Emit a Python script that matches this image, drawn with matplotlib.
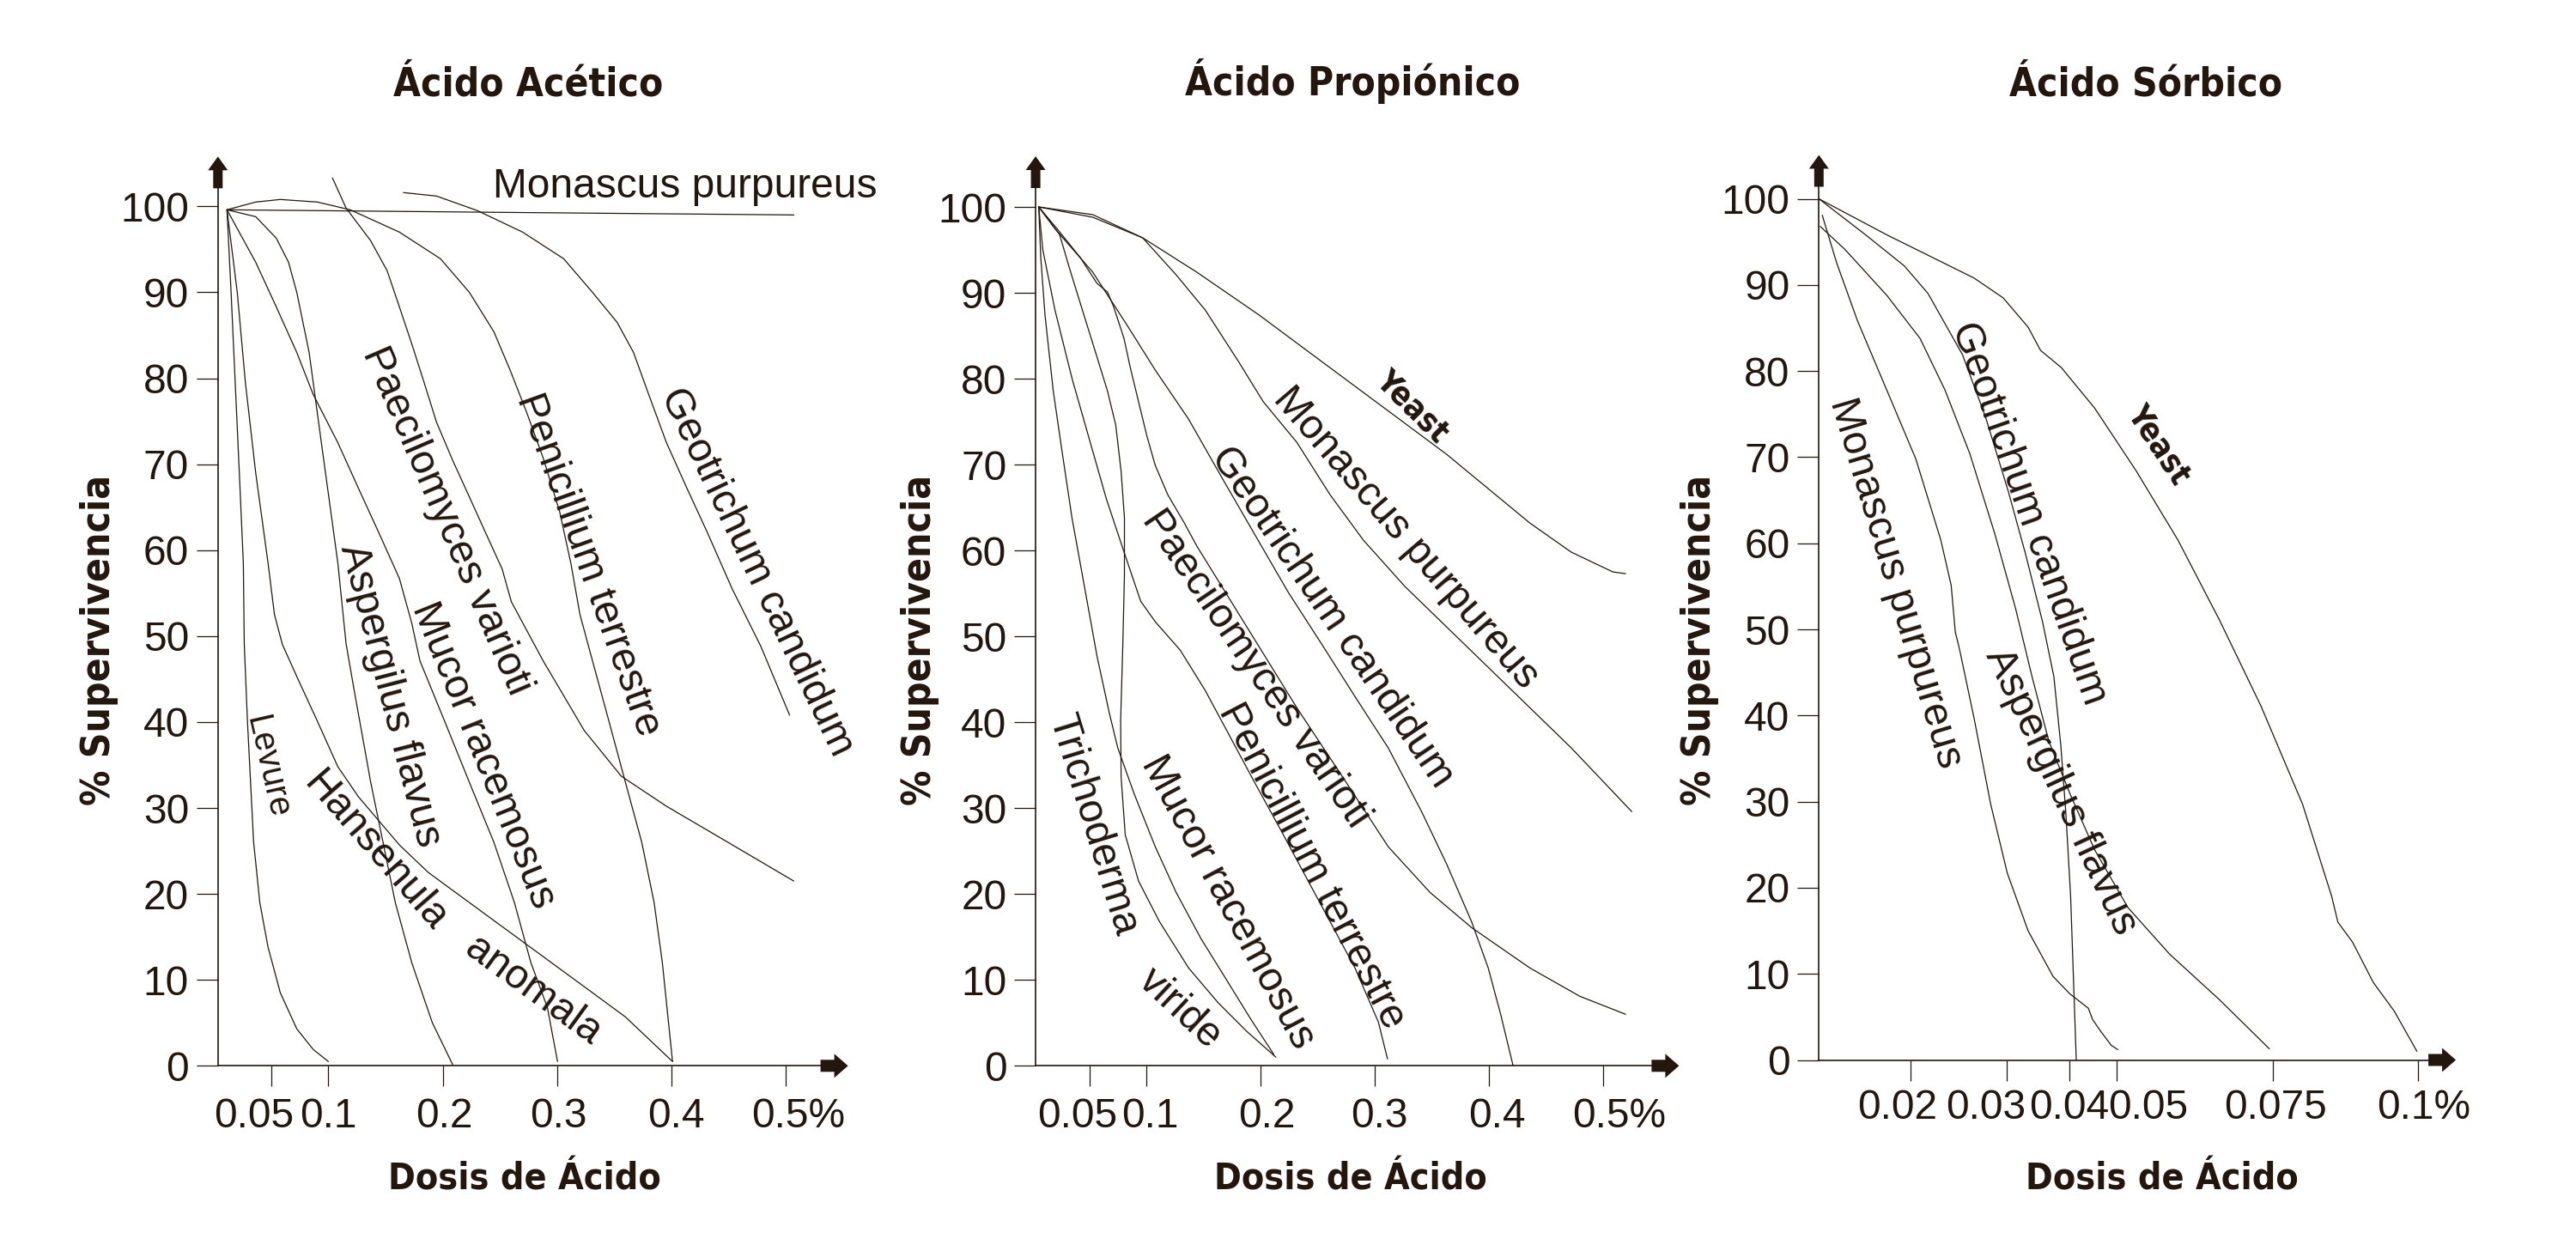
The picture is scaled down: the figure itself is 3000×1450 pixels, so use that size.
import numpy as np
import matplotlib
matplotlib.use("Agg")
import matplotlib.pyplot as plt
from matplotlib import font_manager
from matplotlib.patches import FancyArrow
from matplotlib.transforms import IdentityTransform

# -------------------------------------------------------
# DATA  (dose of acid in %, survival in %)
# -------------------------------------------------------
y_ticks = [0, 10, 20, 30, 40, 50, 60, 70, 80, 90, 100]

# --- Acido Acetico ---
ac_ticks = [0.05, 0.1, 0.2, 0.3, 0.4, 0.5]
ac_ticklabels = ['0.05', '0.1', '0.2', '0.3', '0.4', '0.5%']

ac_monascus_x = [0.0115, 0.252, 0.507]
ac_monascus_y = [99.6, 99.3, 99.0]

ac_paecilo_x = [0.1037, 0.1156, 0.1371, 0.1515, 0.1622, 0.1730, 0.1838, 0.1946, 0.2089,
                0.2233, 0.2376, 0.2520, 0.2600, 0.2879, 0.3238, 0.3561, 0.3956, 0.4494, 0.5068]
ac_paecilo_y = [103.3, 99.8, 96.0, 92.5, 88.3, 84.0, 79.5, 74.9, 70.4,
                66.2, 62.0, 57.8, 54.0, 47.1, 39.0, 33.7, 30.2, 26.0, 21.5]

ac_penic_x = [0.0115, 0.0366, 0.0581, 0.0905, 0.1192, 0.1622, 0.1981, 0.2233, 0.2448, 0.2591,
              0.2735, 0.2879, 0.3022, 0.3120, 0.3200, 0.3310, 0.3453, 0.3597, 0.3740, 0.3848,
              0.3920, 0.3974, 0.4009]
ac_penic_y = [99.6, 100.5, 100.8, 100.5, 99.6, 97.0, 93.9, 90.0, 85.4, 80.9,
              76.0, 70.7, 64.5, 58.5, 52.5, 47.1, 40.1, 33.0, 26.0, 19.0,
              12.0, 5.0, 0.5]

ac_geotri_x = [0.1658, 0.1945, 0.2304, 0.2699, 0.3058, 0.3309, 0.3525, 0.3668, 0.3812,
               0.3956, 0.4135, 0.4315, 0.4530, 0.4781, 0.5032]
ac_geotri_y = [101.6, 101.2, 99.5, 97.0, 93.9, 90.0, 86.5, 83.0, 77.7,
               72.5, 67.2, 62.0, 55.5, 48.8, 40.8]

ac_asperg_x = [0.0115, 0.0366, 0.0546, 0.0653, 0.0725, 0.0779, 0.0833, 0.0887, 0.0940, 0.1012,
               0.1084, 0.1156, 0.1228, 0.1371, 0.1479, 0.1586, 0.1730, 0.1910, 0.2089]
ac_asperg_y = [99.6, 98.8, 96.3, 93.5, 90.0, 86.5, 83.0, 77.7, 72.5, 65.5,
               58.5, 49.1, 43.6, 33.0, 26.0, 19.0, 12.0, 5.0, 0.1]

ac_mucor_x = [0.0115, 0.0366, 0.0546, 0.0725, 0.0869, 0.1084, 0.1264, 0.1443, 0.1622,
              0.1730, 0.1802, 0.2017, 0.2233, 0.2448, 0.2627, 0.2771, 0.2915, 0.3004]
ac_mucor_y = [99.6, 93.5, 88.3, 83.0, 78.1, 72.5, 67.2, 62.0, 56.7,
              51.5, 47.1, 40.1, 33.0, 26.0, 19.0, 12.0, 6.8, 0.5]

ac_hansen_x = [0.0115, 0.0205, 0.0276, 0.0366, 0.0474, 0.0530, 0.0600, 0.0725, 0.0905, 0.1084,
               0.1264, 0.1443, 0.1622, 0.1874, 0.2161, 0.2520, 0.2879, 0.3238, 0.3596, 0.4009]
ac_hansen_y = [99.6, 90.0, 79.5, 69.0, 58.5, 52.5, 49.0, 45.3, 40.1, 34.8,
               31.3, 28.5, 25.7, 22.5, 19.7, 16.2, 12.7, 9.2, 5.7, 0.5]

ac_levure_x = [0.0115, 0.0151, 0.0187, 0.0223, 0.0258, 0.0266, 0.0294, 0.0348, 0.0402,
               0.0474, 0.0581, 0.0725, 0.0869, 0.1001]
ac_levure_y = [99.6, 90.0, 79.5, 69.0, 58.5, 49.1, 40.1, 26.0, 19.0,
               13.8, 8.5, 4.3, 1.9, 0.5]

# --- Acido Propionico ---
pr_ticks = [0.05, 0.1, 0.2, 0.3, 0.4, 0.5]
pr_ticklabels = ['0.05', '0.1', '0.2', '0.3', '0.4', '0.5%']

pr_yeast_x = [0.0058, 0.0531, 0.0968, 0.1442, 0.1988, 0.2534, 0.3081, 0.3627, 0.3991,
              0.4355, 0.4719, 0.5083, 0.5193]
pr_yeast_y = [100.0, 99.1, 96.4, 92.4, 87.4, 82.0, 76.6, 71.2, 67.2,
              63.2, 59.8, 57.5, 57.3]

pr_monascus_x = [0.0058, 0.0531, 0.0968, 0.1260, 0.1515, 0.1806, 0.2024, 0.2316, 0.2607,
                 0.2899, 0.3263, 0.3627, 0.3991, 0.4355, 0.4719, 0.5247]
pr_monascus_y = [100.0, 98.8, 96.4, 92.1, 88.0, 82.0, 77.3, 72.6, 66.5,
                 61.2, 55.8, 51.1, 46.4, 41.7, 37.0, 29.6]

pr_geotri_x = [0.0058, 0.0204, 0.0531, 0.0823, 0.1078, 0.1369, 0.1660, 0.1951, 0.2243,
               0.2534, 0.2825, 0.3117, 0.3408, 0.3627, 0.3845, 0.3991, 0.4100, 0.4209]
pr_geotri_y = [100.0, 97.4, 92.4, 86.4, 81.0, 75.3, 68.5, 61.8, 55.1,
               49.1, 43.0, 37.0, 29.6, 23.5, 16.8, 11.4, 6.0, 0.0]

pr_paecilo_x = [0.0058, 0.0222, 0.0422, 0.0568, 0.0659, 0.0713, 0.0804, 0.0859, 0.0932,
                0.1005, 0.1078, 0.1187, 0.1332, 0.1442, 0.1879, 0.2316, 0.2753, 0.3117,
                0.3481, 0.3845, 0.4355, 0.4792, 0.5193]
pr_paecilo_y = [100.0, 97.4, 94.1, 91.1, 90.1, 88.4, 84.7, 81.3, 77.3,
                73.3, 69.9, 66.5, 63.2, 60.5, 51.1, 41.7, 32.9, 25.5,
                20.2, 16.1, 11.4, 8.1, 6.0]

pr_penic_x = [0.0058, 0.0094, 0.0200, 0.0350, 0.0500, 0.0650, 0.0800, 0.0950, 0.1078, 0.1296,
              0.1515, 0.1733, 0.1951, 0.2170, 0.2388, 0.2607, 0.2825, 0.3030, 0.3110]
pr_penic_y = [100.0, 95.0, 88.0, 80.0, 73.0, 66.0, 60.0, 54.1, 51.7, 48.4,
              43.7, 38.3, 32.9, 27.6, 22.2, 16.8, 11.4, 5.1, 0.8]

pr_mucor_x = [0.0058, 0.0240, 0.0331, 0.0440, 0.0550, 0.0659, 0.0732, 0.0779, 0.0808, 0.0808,
              0.0794, 0.0775, 0.0779, 0.0815, 0.0932, 0.1114, 0.1369, 0.1624, 0.1879, 0.2134]
pr_mucor_y = [100.0, 96.8, 92.7, 88.0, 83.3, 78.6, 74.6, 69.2, 63.8, 57.1,
              49.1, 40.3, 33.6, 26.9, 21.5, 16.8, 11.4, 7.4, 4.0, 1.0]

pr_tricho_x = [0.0058, 0.0076, 0.0113, 0.0185, 0.0258, 0.0349, 0.0458, 0.0568, 0.0677, 0.0750,
               0.0895, 0.1078, 0.1260, 0.1478, 0.1697, 0.1915, 0.2116]
pr_tricho_y = [100.0, 94.1, 87.4, 78.6, 71.9, 63.8, 55.8, 47.7, 41.0, 37.0,
               31.6, 25.5, 20.2, 14.8, 10.1, 5.4, 1.3]

# --- Acido Sorbico ---
so_ticks = [0.02, 0.03, 0.04, 0.05, 0.075, 0.1]
so_ticklabels = ['0.02', '0.03', '0.04', '0.05', '0.075', '0.1%']

so_yeast_x = [0.0100, 0.01742, 0.02661, 0.02965, 0.03342, 0.03539, 0.03868, 0.04531, 0.05313,
              0.05980, 0.06647, 0.07313, 0.08014, 0.08514, 0.08621, 0.08871, 0.09229, 0.09586,
              0.09979]
so_yeast_y = [100.0, 95.8, 90.8, 88.5, 85.1, 82.4, 80.4, 75.7, 68.4,
              60.4, 51.1, 41.1, 29.7, 19.0, 16.0, 13.7, 9.0, 5.7, 1.0]

so_geotri_x = [0.0100, 0.0151, 0.0193, 0.0218, 0.0254, 0.0278, 0.0303, 0.0330, 0.0357,
               0.0375, 0.0386, 0.0394, 0.0402, 0.0408, 0.0414]
so_geotri_y = [100.0, 95.8, 92.2, 89.0, 81.9, 74.7, 66.0, 58.8, 50.9,
               44.5, 36.5, 28.6, 19.0, 9.5, 0.0]

so_asperg_x = [0.01014, 0.01285, 0.01738, 0.02096, 0.02357, 0.02617, 0.02878, 0.03145, 0.03408,
               0.03671, 0.04000, 0.04531, 0.05180, 0.05847, 0.06647, 0.07447]
so_asperg_y = [96.8, 94.1, 88.8, 83.8, 77.8, 70.4, 61.1, 52.4, 44.4,
               37.0, 31.0, 24.4, 17.7, 12.3, 7.0, 1.3]

so_monascus_x = [0.01036, 0.01195, 0.01421, 0.01738, 0.02052, 0.02313, 0.02422, 0.02465, 0.02509,
                 0.02661, 0.02835, 0.03013, 0.03342, 0.03737, 0.04000, 0.04398, 0.04487, 0.04664,
                 0.04885, 0.05018]
so_monascus_y = [98.1, 92.5, 85.8, 77.8, 69.8, 60.4, 55.1, 49.7, 47.7,
                 39.7, 29.7, 21.7, 15.0, 9.7, 7.7, 6.0, 4.7, 3.3, 1.7, 1.2]

# the printed sorbic dose axis is not linear: dose -> position along the drawn axis
so_axis_dose = [0.01, 0.02, 0.03, 0.04, 0.05, 0.075, 0.1, 0.11]
so_axis_pos = [37, 258, 488, 640, 753, 1128, 1478, 1618]

# -------------------------------------------------------
# STYLE / FONTS
# -------------------------------------------------------
W, H, DPI = 3000, 1450, 150
PT = 72.0 / DPI
INK = '#22160d'

plt.rcParams['font.family'] = ['Liberation Sans', 'DejaVu Sans']

ttf = font_manager.fontManager.ttflist
names = {f.name for f in ttf}
if 'Liberation Sans Narrow' in names:
    COND = dict(family='Liberation Sans Narrow', fontweight='bold')
    HEAD_FS, XLAB_FS, YEAST_FS = 25, 24, 21
elif any(f.name == 'DejaVu Sans' and 'condensed' in str(f.stretch) for f in ttf):
    COND = dict(family='DejaVu Sans', fontstretch='condensed', fontweight='bold')
    HEAD_FS, XLAB_FS, YEAST_FS = 22, 20.5, 18
else:
    COND = dict(family='Liberation Sans', fontweight='bold')
    HEAD_FS, XLAB_FS, YEAST_FS = 21, 19.5, 18

CURVE_FS = 23
TICK_FS = 23

fig = plt.figure(figsize=(W / DPI, H / DPI), dpi=DPI)
fig.patch.set_facecolor('white')


def px_axes(left, right, top, bottom):
    return fig.add_axes([left / W, 1 - bottom / H, (right - left) / W, (bottom - top) / H])


def style_axes(ax, xlim, ylim, ticks, labels, shifts, drop):
    ax.set_xlim(*xlim)
    ax.set_ylim(*ylim)
    ax.patch.set_visible(False)
    for s in ('top', 'right'):
        ax.spines[s].set_visible(False)
    for s in ('left', 'bottom'):
        ax.spines[s].set_linewidth(0.8)
        ax.spines[s].set_color(INK)
    ax.set_yticks(y_ticks, [str(v) for v in y_ticks])
    ax.tick_params(axis='y', direction='out', length=12, width=0.6, color=INK,
                   pad=4.2, labelsize=TICK_FS, labelcolor=INK)
    ax.set_xticks(ticks, [''] * len(ticks))
    ax.tick_params(axis='x', direction='out', length=11.5, width=0.6, color=INK)
    ax.xaxis.set_minor_locator(matplotlib.ticker.NullLocator())
    # tick labels of the print are hand placed, shifted a little from their ticks
    for t, lab, s in zip(ticks, labels, shifts):
        ax.annotate(lab, xy=(t, 0), xycoords=('data', 'axes fraction'),
                    xytext=(s * PT, -drop * PT), textcoords='offset points',
                    ha='center', va='baseline', fontsize=TICK_FS, color=INK)


def axis_arrows(ax):
    pos = ax.get_position()
    x0, x1 = pos.x0 * W, pos.x1 * W
    y0, y1 = pos.y0 * H, pos.y1 * H
    up = FancyArrow(x0, y1 - 1, 0, 37, width=11, head_width=23, head_length=16,
                    length_includes_head=True, transform=IdentityTransform(),
                    color=INK, lw=0)
    right = FancyArrow(x1 - 1, y0, 32, 0, width=14, head_width=28, head_length=16,
                       length_includes_head=True, transform=IdentityTransform(),
                       color=INK, lw=0)
    fig.add_artist(up)
    fig.add_artist(right)


def curve(ax, x, y):
    ax.plot(x, y, color=INK, lw=0.6, clip_on=False, solid_capstyle='round')


def label(ax, txt, x, y, rot, **kw):
    opts = dict(fontsize=CURVE_FS, color=INK)
    opts.update(kw)
    ax.text(x, y, txt, rotation=rot, rotation_mode='anchor',
            ha='center', va='center', **opts)


# -------------------------------------------------------
# PANEL 1: Acido Acetico
# -------------------------------------------------------
ax1 = px_axes(253.8, 956.6, 218.3, 1241.3)
style_axes(ax1, (0.0036, 0.5310), (0, 102.2), ac_ticks, ac_ticklabels,
           [-20, 0, 2, 2, 5, 14], 72)
for xs, ys in [(ac_monascus_x, ac_monascus_y), (ac_paecilo_x, ac_paecilo_y),
               (ac_penic_x, ac_penic_y), (ac_geotri_x, ac_geotri_y),
               (ac_asperg_x, ac_asperg_y), (ac_mucor_x, ac_mucor_y),
               (ac_hansen_x, ac_hansen_y), (ac_levure_x, ac_levure_y)]:
    curve(ax1, xs, ys)

label(ax1, 'Monascus purpureus', 0.412, 102.3, 0)
label(ax1, 'Paecilomyces varioti', 0.2034, 63.4, -66.7)
label(ax1, 'Penicillium terrestre', 0.3272, 58.3, -70.2)
label(ax1, 'Geotrichum candidum', 0.4743, 57.5, -64.5)
label(ax1, 'Aspergilus flavus', 0.1540, 43.1, -75.5)
label(ax1, 'Mucor racemosus', 0.2356, 36.1, -68.0)
label(ax1, 'Levure', 0.0465, 34.7, -77.0, fontsize=19)
# this label bends with its curve in the print
label(ax1, 'Hansenula', 0.1407, 25.0, -49.0)
label(ax1, 'anomala', 0.2789, 8.7, -36.0)

# -------------------------------------------------------
# PANEL 2: Acido Propionico
# -------------------------------------------------------
ax2 = px_axes(1206.1, 1924.4, 218.0, 1241.3)
style_axes(ax2, (0.0031, 0.5428), (0, 102.3), pr_ticks, pr_ticklabels,
           [-14, 4, 7, 5, 9, 18], 72)
for xs, ys in [(pr_yeast_x, pr_yeast_y), (pr_monascus_x, pr_monascus_y),
               (pr_geotri_x, pr_geotri_y), (pr_paecilo_x, pr_paecilo_y),
               (pr_penic_x, pr_penic_y), (pr_mucor_x, pr_mucor_y),
               (pr_tricho_x, pr_tricho_y)]:
    curve(ax2, xs, ys)

label(ax2, 'Yeast', 0.3325, 76.7, -44.8, fontsize=YEAST_FS, **COND)
label(ax2, 'Monascus purpureus', 0.3272, 61.4, -49.2)
label(ax2, 'Geotrichum candidum', 0.2622, 52.2, -55.8)
label(ax2, 'Paecilomyces varioti', 0.1953, 46.2, -55.8)
label(ax2, 'Penicillium terrestre', 0.2449, 23.2, -62.4)
label(ax2, 'Mucor racemosus', 0.1713, 19.1, -61.8)
label(ax2, 'Trichoderma', 0.0531, 28.0, -73.0)
label(ax2, 'viride', 0.1296, 6.6, -43.0)

# -------------------------------------------------------
# PANEL 3: Acido Sorbico (uneven dose axis)
# -------------------------------------------------------
ax3 = px_axes(2118.3, 2829.1, 216.5, 1234.5)
ax3.set_xscale('function', functions=(lambda d: np.interp(d, so_axis_dose, so_axis_pos),
                                      lambda p: np.interp(p, so_axis_pos, so_axis_dose)))
style_axes(ax3, (0.01, 0.1019), (0, 101.5), so_ticks, so_ticklabels,
           [-16, -24, -1, 37, 3, 6], 68.5)
for xs, ys in [(so_yeast_x, so_yeast_y), (so_geotri_x, so_geotri_y),
               (so_asperg_x, so_asperg_y), (so_monascus_x, so_monascus_y)]:
    curve(ax3, xs, ys)

label(ax3, 'Yeast', 0.0566, 71.4, -56.6, fontsize=YEAST_FS, **COND)
label(ax3, 'Geotrichum candidum', 0.0335, 63.5, -70.6)
label(ax3, 'Monascus purpureus', 0.0183, 55.4, -73.4)
label(ax3, 'Aspergilus flavus', 0.0386, 31.2, -65.0)

# -------------------------------------------------------
# TITLES, AXIS NAMES, ARROWS
# -------------------------------------------------------
for ax, title, tx, yx, xx in [(ax1, 'Ácido Acético', 615, 115.5, 611),
                              (ax2, 'Ácido Propiónico', 1575.5, 1071.6, 1573),
                              (ax3, 'Ácido Sórbico', 2499.5, 1980, 2517.6)]:
    fig.text(tx / W, 1 - 111 / H, title, ha='center', va='baseline', color=INK,
             fontsize=HEAD_FS, **COND)
    fig.text(yx / W, 1 - 745 / H, '% Supervivencia', rotation=90,
             ha='center', va='center', color=INK, fontsize=HEAD_FS, **COND)
    fig.text(xx / W, 1 - 1386 / H, 'Dosis de Ácido', ha='center', va='baseline',
             color=INK, fontsize=XLAB_FS, **COND)
    axis_arrows(ax)

fig.savefig('out.png', dpi=DPI, facecolor='white')
